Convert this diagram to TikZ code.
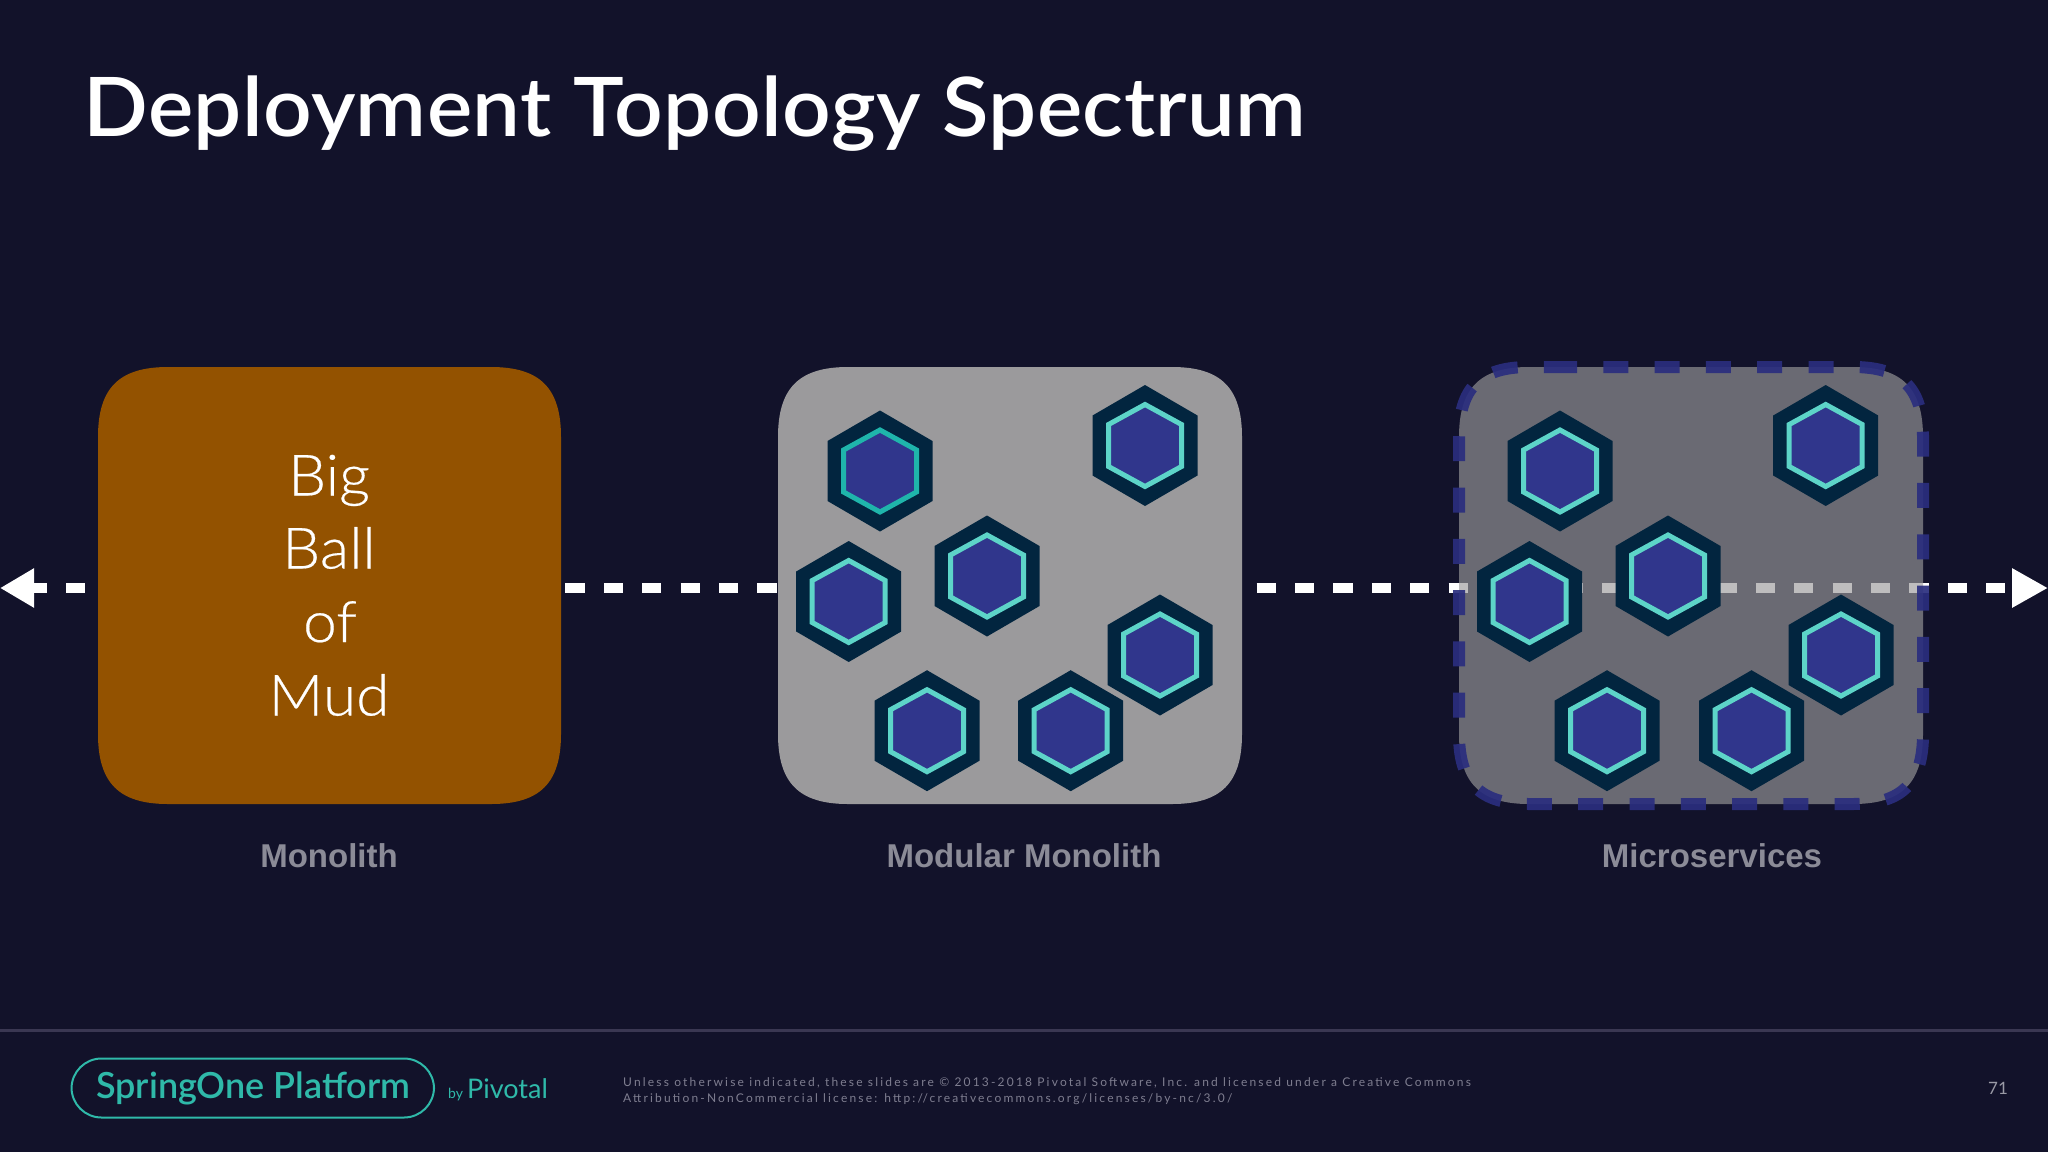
\documentclass[tikz,border=0pt]{standalone}
\usepackage{fontspec}
\usetikzlibrary{arrows.meta}
\setmainfont{Lato}
\newfontfamily\labelfont{Liberation Sans}
\newfontfamily\lightfont[FakeStretch=1.06,FakeBold=0.35]{Lato Light}
\newfontfamily\titlefont[FakeStretch=1.04,LetterSpace=0.5]{Lato Semibold}
\newfontfamily\brandfont{Lato Semibold}
\newfontfamily\spacedfont[LetterSpace=18.2]{Lato}
\definecolor{bgc}{HTML}{12122A}
\definecolor{mud}{HTML}{935200}
\definecolor{modgray}{HTML}{9B9A9C}
\definecolor{hexout}{HTML}{02253F}
\definecolor{hexin}{HTML}{30368C}
\definecolor{hexline}{HTML}{5DD4C8}
\definecolor{hexlinedark}{HTML}{1FB5AB}
\definecolor{dashc}{HTML}{2A2E7E}
\definecolor{labelc}{HTML}{8B8B97}
\definecolor{teal}{HTML}{2FB9A9}
\definecolor{footgray}{HTML}{7F7E90}
\definecolor{pagegray}{HTML}{9A9AA6}
\definecolor{rulec}{HTML}{3A3752}
\newcommand{\squirclepath}[4]{% x1 y1 x2 y2, starts on the top edge
  (#1+70,#2) -- (#3-70,#2) .. controls (#3-21,#2) and (#3,#2+21) .. (#3,#2+70)
  -- (#3,#4-70) .. controls (#3,#4-21) and (#3-21,#4) .. (#3-70,#4)
  -- (#1+70,#4) .. controls (#1+21,#4) and (#1,#4-21) .. (#1,#4-70)
  -- (#1,#2+70) .. controls (#1,#2+21) and (#1+21,#2) .. (#1+70,#2) -- cycle}
\newcommand{\hexcell}[3]{% x y linecolour
  \fill[hexout] (#1,#2-60.5) -- (#1+52.5,#2-30) -- (#1+52.5,#2+30) -- (#1,#2+60.5)
     -- (#1-52.5,#2+30) -- (#1-52.5,#2-30) -- cycle;
  \filldraw[fill=hexin,draw=#3,line width=5pt,miter limit=4] (#1,#2-41) -- (#1+36.5,#2-21) -- (#1+36.5,#2+21)
     -- (#1,#2+41) -- (#1-36.5,#2+21) -- (#1-36.5,#2-21) -- cycle;}
\tikzset{
  flow/.style={white,line width=10pt,dash pattern=on 19.2pt off 19.2pt,dash phase=4pt,
    {Triangle[length=34pt,width=37pt]}-{Triangle[length=36pt,width=37pt]}},
  caption/.style={text=labelc,font=\labelfont\bfseries\fontsize{33}{33}\selectfont,anchor=base,inner sep=0pt},
  mudtext/.style={text=white,font=\lightfont\fontsize{57}{57}\selectfont,anchor=base,inner sep=0pt},
  foot/.style={text=footgray,font=\spacedfont\fontsize{12}{12}\selectfont,anchor=base west,inner sep=0pt},
  brand/.style={text=teal,anchor=base west,inner sep=0pt},
}
\begin{document}
\begin{tikzpicture}[x=1pt,y=-1pt]
\useasboundingbox (0,0) rectangle (2048,1152);
\fill[bgc] (0,0) rectangle (2048,1152);
\node[text=white,font=\titlefont\fontsize{82}{82}\selectfont,anchor=base west,inner sep=0pt] (title) at (83,136) {Deployment Topology Spectrum};
\coordinate (flowleft) at (0,588);
\coordinate (flowright) at (2048,588);
\draw[flow] (flowleft) -- (flowright);
% Monolith
\fill[mud] \squirclepath{98}{367}{561}{804};
\node[mudtext] (big) at (329,495.5) {Big};
\node[mudtext] (ball) at (329,568.5) {Ball};
\node[mudtext] (of) at (330,642) {of};
\node[mudtext] (mud) at (329,715.5) {Mud};
\node[caption] (monolith) at (329,867) {Monolith};
% Modular monolith
\fill[modgray] \squirclepath{778}{367}{1242}{804};
\hexcell{880}{471}{hexlinedark}
\hexcell{1145}{445.5}{hexline}
\hexcell{848.7}{601.5}{hexline}
\hexcell{987}{576}{hexline}
\hexcell{1160}{655}{hexline}
\hexcell{927}{730.7}{hexline}
\hexcell{1070.7}{730.7}{hexline}
\node[caption] (modular) at (1024,867) {Modular Monolith};
% Microservices
\fill[modgray,fill opacity=.646] \squirclepath{1459}{367}{1923}{804};
\draw[dashc,opacity=.92,line width=12pt,dash pattern=on 25pt off 26.3pt]
  (1552,367) -- (1853,367) .. controls (1902,367) and (1923,388) .. (1923,437)
  -- (1923,734) .. controls (1923,783) and (1902,804) .. (1853,804)
  -- (1529,804) .. controls (1480,804) and (1459,783) .. (1459,734)
  -- (1459,437) .. controls (1459,388) and (1480,367) .. (1529,367) -- cycle;
\hexcell{1560}{471}{hexline}
\hexcell{1825.7}{445.5}{hexline}
\hexcell{1529.5}{601.5}{hexline}
\hexcell{1668}{576}{hexline}
\hexcell{1841}{655}{hexline}
\hexcell{1607}{730.7}{hexline}
\hexcell{1751.5}{730.7}{hexline}
\node[caption] (micro) at (1712,867) {Microservices};
% Footer
\coordinate (ruleleft) at (0,1030);
\coordinate (ruleright) at (2048,1030);
\draw[rulec,line width=3pt] (ruleleft) -- (ruleright);
\draw[teal,line width=2pt,rounded corners=30pt] (71.5,1058.5) rectangle (434,1117.5);
\node[brand,font=\brandfont\fontsize{36}{36}\selectfont] (spring) at (96,1098) {SpringOne Platform};
\node[brand,font=\fontsize{14}{14}\selectfont] (by) at (448,1098) {by};
\node[brand,font=\fontsize{27}{27}\selectfont] (pivotal) at (467,1098) {Pivotal};
\node[foot] (l1) at (623,1086) {Unless otherwise indicated, these slides are © 2013-2018 Pivotal Software, Inc. and licensed under a Creative Commons};
\node[foot] (l2) at (623,1102) {Attribution-NonCommercial license: http://creativecommons.org/licenses/by-nc/3.0/};
\node[text=pagegray,font=\fontsize{17}{17}\selectfont,inner sep=0pt] (page) at (1998,1088) {71};
\end{tikzpicture}
\end{document}
